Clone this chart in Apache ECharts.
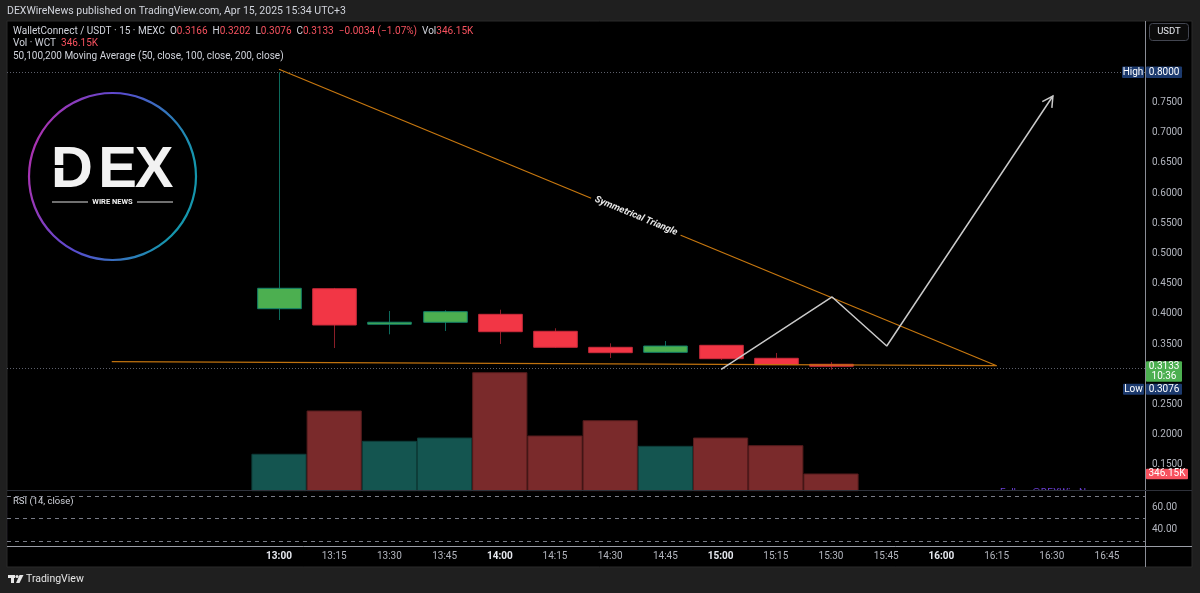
<!DOCTYPE html>
<html>
<head>
<meta charset="utf-8">
<script src="https://cdn.jsdelivr.net/npm/echarts@6/dist/echarts.min.js"></script>
<style>
  html, body { margin: 0; padding: 0; background: #1f1f1f; }
  #main { width: 1200px; height: 593px; }
</style>
</head>
<body>
<div id="main"></div>
<script>
// candles, 15 min, 13:00 = index 0
const candleTimes = ['13:00','13:15','13:30','13:45','14:00','14:15','14:30','14:45','15:00','15:15','15:30'];
const openVals  = [0.4086, 0.4417, 0.3830, 0.3861, 0.3993, 0.3712, 0.3447, 0.3364, 0.3480, 0.3265, 0.3166];
const closeVals = [0.4424, 0.3816, 0.3862, 0.4037, 0.3705, 0.3447, 0.3358, 0.3468, 0.3259, 0.3159, 0.3133];
const highVals  = [0.8000, 0.4430, 0.4048, 0.4060, 0.4070, 0.3762, 0.3513, 0.3551, 0.3480, 0.3353, 0.3202];
const lowVals   = [0.3899, 0.3435, 0.3662, 0.3717, 0.3502, 0.3440, 0.3270, 0.3362, 0.3237, 0.3155, 0.3076];
const volumeVals = [755000, 1652000, 1024000, 1092000, 2446000, 1134000, 1451000, 920000, 1092000, 933000, 346150];
const timeTickLabels = ['13:00','13:15','13:30','13:45','14:00','14:15','14:30','14:45','15:00','15:15','15:30','15:45','16:00','16:15','16:30','16:45'];

// drawings (x = bar index, y = price)
const upperTrend = [[0, 0.805], [13.0, 0.3142]];
const lowerTrend = [[-3.03, 0.3209], [13.0, 0.3142]];
const projection = [[8.01, 0.3083], [10.02, 0.428], [11.01, 0.3469], [14.02, 0.7608]];
const triangleLabelAt = [6.47, 0.5621];
const lastPrice = 0.3133, highPrice = 0.8000, lowPrice = 0.3076;

const FONT = 'Roboto, "Noto Sans", sans-serif';
const UP = '#4caf50', DOWN = '#f23645';

const chart = echarts.init(document.getElementById('main'));

function candleItem(params, api) {
  const i = api.value(0);
  const o = api.value(1), c = api.value(2), l = api.value(3), h = api.value(4);
  const pO = api.coord([i, o]), pC = api.coord([i, c]);
  const pL = api.coord([i, l]), pH = api.coord([i, h]);
  const w = api.size([1, 0])[0] * 0.79;
  const up = c >= o;
  const top = Math.min(pO[1], pC[1]);
  const bot = Math.max(pO[1], pC[1]);
  const x = Math.round(pO[0]) + 0.5;
  return {
    type: 'group',
    children: [
      { type: 'line', shape: { x1: x, y1: pH[1], x2: x, y2: pL[1] },
        style: { stroke: up ? '#0c6a5c' : '#8a1e28', lineWidth: 1 } },
      { type: 'rect', shape: { x: x - w / 2, y: top, width: w, height: Math.max(bot - top, 2) },
        style: { fill: up ? UP : DOWN, stroke: up ? '#12806a' : '#c82a3a', lineWidth: 1 } }
    ]
  };
}

function volumeItem(params, api) {
  const i = api.value(0);
  const v = api.value(1);
  const up = api.value(2) > 0;
  const p = api.coord([i, v]);
  const p0 = api.coord([i, 0]);
  const w = api.size([1, 0])[0];
  return {
    type: 'rect',
    shape: { x: p[0] - w / 2 + 0.5, y: p[1], width: w - 1, height: p0[1] - p[1] },
    style: { fill: up ? '#145550' : '#7a2a2b', stroke: up ? '#0d3d39' : '#561c1d', lineWidth: 1 }
  };
}

function arrowItem(params, api) {
  const a = api.coord([api.value(0), api.value(1)]);
  const b = api.coord([api.value(2), api.value(3)]);
  const ang = Math.atan2(b[1] - a[1], b[0] - a[0]);
  const len = 12, spread = 0.5;
  const l1 = [b[0] - len * Math.cos(ang - spread), b[1] - len * Math.sin(ang - spread)];
  const l2 = [b[0] - len * Math.cos(ang + spread), b[1] - len * Math.sin(ang + spread)];
  return {
    type: 'polyline',
    shape: { points: [l1, b, l2] },
    style: { stroke: '#c9c9c9', lineWidth: 1.5, fill: null }
  };
}

const candleData = candleTimes.map((t, i) => [i, openVals[i], closeVals[i], lowVals[i], highVals[i]]);
const volumeData = candleTimes.map((t, i) => [i, volumeVals[i], closeVals[i] >= openVals[i] ? 1 : -1]);
const lastSeg = projection.slice(-2);

const xMin = (7 - 279) / 55.2, xMax = (1145 - 279) / 55.2;

const option = {
  backgroundColor: '#1f1f1f',
  animation: false,
  grid: [
    { left: 7, top: 11.9, width: 1138, height: 483.2 },          // price
    { left: 7, top: 290.7, width: 1138, height: 200 },           // volume overlay
    { left: 7, top: 496, width: 1138, height: 45.3 },            // RSI
    { left: 3, top: 540, width: 1142, height: 6.7 }              // time axis
  ],
  xAxis: [
    { type: 'value', gridIndex: 0, min: xMin, max: xMax, show: false },
    { type: 'value', gridIndex: 1, min: xMin, max: xMax, show: false },
    { type: 'value', gridIndex: 2, min: xMin, max: xMax, show: false },
    { type: 'value', gridIndex: 3, min: -5, max: xMax, interval: 1,
      axisLine: { show: false }, axisTick: { show: false }, splitLine: { show: false },
      axisLabel: {
        margin: 5,
        formatter: function (v) {
          const i = Math.round(v);
          if (i < 0 || i >= timeTickLabels.length) return '';
          const t = timeTickLabels[i];
          return t.endsWith(':00') ? '{b|' + t + '}' : '{n|' + t + '}';
        },
        rich: {
          b: { color: '#e6e8ee', fontWeight: 'bold', fontSize: 10, fontFamily: FONT },
          n: { color: '#b2b5be', fontSize: 10, fontFamily: FONT }
        }
      }
    }
  ],
  yAxis: [
    { type: 'value', gridIndex: 0, position: 'right', min: 0.1, max: 0.9, interval: 0.05,
      axisLine: { show: false }, axisTick: { show: false }, splitLine: { show: false },
      axisLabel: {
        margin: 7, color: '#b2b5be', fontSize: 10, fontFamily: FONT,
        formatter: function (v) {
          if (v > 0.81 || v < 0.12 || Math.abs(v - 0.3) < 1e-6) return '';
          return v.toFixed(4);
        }
      }
    },
    { type: 'value', gridIndex: 1, min: 0, max: 4145500, show: false },
    { type: 'value', gridIndex: 2, position: 'right', min: 30, max: 70, interval: 10,
      axisLine: { show: false }, axisTick: { show: false }, splitLine: { show: false },
      axisLabel: {
        margin: 7, color: '#b2b5be', fontSize: 10, fontFamily: FONT,
        formatter: function (v) { return (v === 40 || v === 60) ? v.toFixed(2) : ''; }
      }
    },
    { type: 'value', gridIndex: 3, show: false }
  ],
  series: [
    {
      type: 'custom', name: 'Vol', xAxisIndex: 1, yAxisIndex: 1, z: 2,
      renderItem: volumeItem, data: volumeData, encode: { x: 0, y: 1 }
    },
    {
      type: 'line', name: 'levels', xAxisIndex: 0, yAxisIndex: 0, z: 3,
      data: [[-100, 0.5]], showSymbol: false, silent: true,
      markLine: {
        silent: true, symbol: 'none', label: { show: false },
        data: [
          { yAxis: highPrice, lineStyle: { color: '#5d606b', type: [1, 2], width: 1 } },
          { yAxis: lastPrice, lineStyle: { color: '#2e7d46', type: [1, 2], width: 1 } },
          { yAxis: lowPrice, lineStyle: { color: '#5d606b', type: [1, 2], width: 1 } }
        ]
      }
    },
    {
      type: 'custom', name: 'WCT', xAxisIndex: 0, yAxisIndex: 0, z: 4,
      renderItem: candleItem, data: candleData, encode: { x: 0, y: [1, 2, 3, 4] }
    },
    {
      type: 'line', name: 'upper', xAxisIndex: 0, yAxisIndex: 0, z: 5,
      data: upperTrend, showSymbol: false, silent: true,
      lineStyle: { color: '#c8780f', width: 1.2 }
    },
    {
      type: 'line', name: 'lower', xAxisIndex: 0, yAxisIndex: 0, z: 5,
      data: lowerTrend, showSymbol: false, silent: true,
      lineStyle: { color: '#c0720e', width: 1.2 }
    },
    {
      type: 'line', name: 'projection', xAxisIndex: 0, yAxisIndex: 0, z: 6,
      data: projection, showSymbol: false, silent: true,
      lineStyle: { color: '#c9c9c9', width: 1.5 }
    },
    {
      type: 'custom', name: 'arrow', xAxisIndex: 0, yAxisIndex: 0, z: 6,
      renderItem: arrowItem, data: [[lastSeg[0][0], lastSeg[0][1], lastSeg[1][0], lastSeg[1][1]]],
      encode: { x: [0, 2], y: [1, 3] }
    },
    {
      type: 'line', name: 'RSI', xAxisIndex: 2, yAxisIndex: 2, z: 3,
      data: [[-100, 50]], showSymbol: false, silent: true,
      markArea: {
        silent: true,
        itemStyle: { color: 'rgba(126,87,194,0.1)' },
        data: [[{ yAxis: 30 }, { yAxis: 70 }]]
      },
      markLine: {
        silent: true, symbol: 'none', label: { show: false },
        lineStyle: { color: '#787b86', type: [4, 4], width: 1 },
        data: [{ yAxis: 30 }, { yAxis: 50 }, { yAxis: 70 }]
      }
    }
  ]
};

chart.setOption(option);

// annotation graphics placed through the axes
const yHigh = chart.convertToPixel({ gridIndex: 0 }, [0, highPrice])[1];
const yLast = chart.convertToPixel({ gridIndex: 0 }, [0, lastPrice])[1];
const yVol = chart.convertToPixel({ gridIndex: 1 }, [0, volumeVals[volumeVals.length - 1]])[1];
const pA = chart.convertToPixel({ gridIndex: 0 }, upperTrend[0]);
const pB = chart.convertToPixel({ gridIndex: 0 }, upperTrend[1]);
const pT = chart.convertToPixel({ gridIndex: 0 }, triangleLabelAt);
const rot = -Math.atan2(pB[1] - pA[1], pB[0] - pA[0]);

function box(x, y, w, h, fill, text, z) {
  return [
    { type: 'rect', z: z, shape: { x: x, y: y, width: w, height: h, r: 1 }, style: { fill: fill } },
    { type: 'text', z: z + 1, x: x + w / 2, y: y + h / 2,
      style: { text: text, fill: '#ffffff', font: '10px ' + FONT, align: 'center', verticalAlign: 'middle' } }
  ];
}

const NAVY = '#1c3a6e';
const boxTop = yLast - 5;
let g = [
  { type: 'rect', z: -10, shape: { x: 7, y: 21, width: 1185, height: 546 }, style: { fill: '#000', stroke: '#2b2b2b', lineWidth: 1 } },
  { type: 'text', z: 10, x: 7, y: 11,
    style: { text: 'DEXWireNews published on TradingView.com, Apr 15, 2025 15:34 UTC+3', fill: '#d1d4dc', font: '10.5px ' + FONT, verticalAlign: 'middle' } },
  { type: 'text', z: 10, x: 13, y: 31,
    style: {
      text: '{w|WalletConnect / USDT · 15 · MEXC  O}{r|0.3166}{w|  H}{r|0.3202}{w|  L}{r|0.3076}{w|  C}{r|0.3133}{r|  −0.0034 (−1.07%)}{w|  Vol}{r|346.15K}',
      verticalAlign: 'middle',
      rich: { w: { fill: '#d1d4dc', font: '10px ' + FONT }, r: { fill: '#f7525f', font: '10px ' + FONT } }
    } },
  { type: 'text', z: 10, x: 13, y: 43.5,
    style: {
      text: '{w|Vol · WCT  }{r|346.15K}', verticalAlign: 'middle',
      rich: { w: { fill: '#d1d4dc', font: '10px ' + FONT }, r: { fill: '#f7525f', font: '10px ' + FONT } }
    } },
  { type: 'text', z: 10, x: 13, y: 56,
    style: { text: '50,100,200 Moving Average (50, close, 100, close, 200, close)', fill: '#d1d4dc', font: '10px ' + FONT, verticalAlign: 'middle' } },

  // logo
  { type: 'circle', z: 10, shape: { cx: 112.5, cy: 176.5, r: 83.5 },
    style: { fill: null, lineWidth: 2.2,
      stroke: new echarts.graphic.LinearGradient(0, 0, 1, 0.3, [
        { offset: 0, color: '#c42aa6' }, { offset: 0.5, color: '#5a4bd0' }, { offset: 1, color: '#1596ad' }]) } },
  { type: 'text', z: 10, x: 72, y: 171, style: { text: 'D', fill: '#f2f2f2', font: 'bold 58px "Liberation Sans", sans-serif', align: 'center', verticalAlign: 'middle' } },
  { type: 'text', z: 10, x: 117.5, y: 171, style: { text: 'E', fill: '#f2f2f2', font: 'bold 58px "Liberation Sans", sans-serif', align: 'center', verticalAlign: 'middle' } },
  { type: 'text', z: 10, x: 154, y: 171, style: { text: 'X', fill: '#f2f2f2', font: 'bold 58px "Liberation Sans", sans-serif', align: 'center', verticalAlign: 'middle' } },
  { type: 'rect', z: 11, shape: { x: 48, y: 165, width: 16, height: 3 }, style: { fill: '#000' } },
  { type: 'text', z: 10, x: 112.5, y: 202, style: { text: 'WIRE NEWS', fill: '#f0f0f0', font: 'bold 7.5px ' + FONT, align: 'center', verticalAlign: 'middle' } },
  { type: 'line', z: 10, shape: { x1: 52, y1: 202, x2: 88, y2: 202 }, style: { stroke: '#e0e0e0', lineWidth: 1.2 } },
  { type: 'line', z: 10, shape: { x1: 137, y1: 202, x2: 173, y2: 202 }, style: { stroke: '#e0e0e0', lineWidth: 1.2 } },

  // triangle label
  { type: 'text', z: 20, x: pT[0], y: pT[1], rotation: rot,
    style: { text: 'Symmetrical Triangle', fill: '#e8e8e8', font: 'italic bold 9.5px ' + FONT,
      align: 'center', verticalAlign: 'middle', backgroundColor: '#000', padding: [1, 4] } },

  // watermark text, mostly hidden below pane edge
  { type: 'text', z: 0, x: 1000, y: 488,
    style: { text: 'Follow @DEXWireNews', fill: '#6b3fd4', font: '10px ' + FONT, verticalAlign: 'top' } },
  { type: 'rect', z: 1, shape: { x: 7.5, y: 491, width: 1137.5, height: 55 }, style: { fill: '#000' } },
  { type: 'text', z: 10, x: 13, y: 502,
    style: { text: 'RSI (14, close)', fill: '#d1d4dc', font: '9.5px ' + FONT, verticalAlign: 'middle' } },

  // separators
  { type: 'line', z: 40, shape: { x1: 1145.5, y1: 21, x2: 1145.5, y2: 567 }, style: { stroke: '#8a8d96', lineWidth: 1 } },
  { type: 'line', z: 40, shape: { x1: 7, y1: 490.5, x2: 1192, y2: 490.5 }, style: { stroke: '#2e313a', lineWidth: 1 } },
  { type: 'line', z: 40, shape: { x1: 7, y1: 546.5, x2: 1192, y2: 546.5 }, style: { stroke: '#9a9da6', lineWidth: 1 } },

  // USDT button
  { type: 'rect', z: 40, shape: { x: 1149.5, y: 23.5, width: 39, height: 17, r: 3 }, style: { fill: '#0b0b0b', stroke: '#434651', lineWidth: 1 } },
  { type: 'text', z: 41, x: 1169, y: 32, style: { text: 'USDT', fill: '#e6e8ee', font: '9.5px ' + FONT, align: 'center', verticalAlign: 'middle' } },

  // footer
  { type: 'rect', z: 10, shape: { x: 8, y: 575, width: 7, height: 3 }, style: { fill: '#e6e6e6' } },
  { type: 'rect', z: 10, shape: { x: 11, y: 575, width: 3, height: 8 }, style: { fill: '#e6e6e6' } },
  { type: 'circle', z: 10, shape: { cx: 17, cy: 576.5, r: 1.6 }, style: { fill: '#e6e6e6' } },
  { type: 'polygon', z: 10, shape: { points: [[19.5, 575], [23.5, 575], [19.5, 583], [16, 583]] }, style: { fill: '#e6e6e6' } },
  { type: 'text', z: 10, x: 26, y: 579.5, style: { text: 'TradingView', fill: '#e6e6e6', font: '10.5px ' + FONT, verticalAlign: 'middle' } }
];

// price axis markers
g = g.concat(box(1122, yHigh - 5.8, 22, 11.6, NAVY, 'High', 50));
g = g.concat(box(1146, yHigh - 5.8, 36, 11.6, NAVY, highPrice.toFixed(4), 50));
g.push({ type: 'rect', z: 50, shape: { x: 1146, y: boxTop, width: 36, height: 20.6, r: 1 }, style: { fill: UP } });
g.push({ type: 'text', z: 51, x: 1164, y: yLast + 0.5, style: { text: lastPrice.toFixed(4), fill: '#fff', font: '10px ' + FONT, align: 'center', verticalAlign: 'middle' } });
g.push({ type: 'text', z: 51, x: 1164, y: yLast + 10.5, style: { text: '10:36', fill: '#fff', font: '10px ' + FONT, align: 'center', verticalAlign: 'middle' } });
g = g.concat(box(1123, boxTop + 22.6, 21, 11, NAVY, 'Low', 50));
g = g.concat(box(1146, boxTop + 22.6, 36, 11, NAVY, lowPrice.toFixed(4), 50));
g = g.concat(box(1146, yVol - 5.3, 42, 10.6, '#f7525f', '346.15K', 50));

chart.setOption({ graphic: { elements: g } });

window.addEventListener('resize', function () { chart.resize(); });
</script>
</body>
</html>
